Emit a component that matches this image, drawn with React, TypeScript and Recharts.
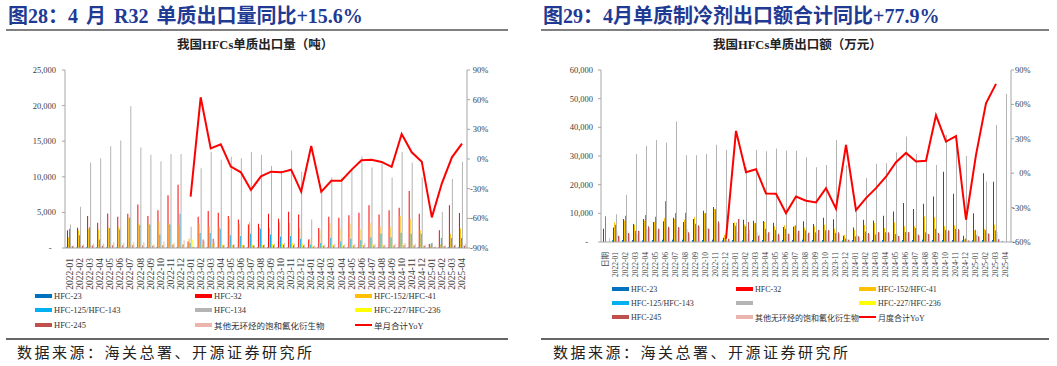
import React from "react";
import { ComposedChart, Bar, Line, XAxis, YAxis } from "recharts";

const SERIF = '"Liberation Serif", "Times New Roman", "Noto Sans CJK SC", serif';
const CJK = '"Noto Sans CJK SC", sans-serif';
const AXIS = "#A6A6A6";
const TXT = "#404040";
const TITLE = "#1F3A93";

// categories
const months1 = [
  "2022-01", "2022-02", "2022-03", "2022-04", "2022-05", "2022-06", "2022-07", "2022-08", "2022-09", "2022-10", "2022-11", "2022-12",
  "2023-01", "2023-02", "2023-03", "2023-04", "2023-05", "2023-06", "2023-07", "2023-08", "2023-09", "2023-10", "2023-11", "2023-12",
  "2024-01", "2024-02", "2024-03", "2024-04", "2024-05", "2024-06", "2024-07", "2024-08", "2024-09", "2024-10", "2024-11", "2024-12",
  "2025-01", "2025-02", "2025-03", "2025-04",
];
const months2 = ["日期", ...months1];

// chart 1: export volume (tonnes)
const vol23 = [100, 80, 120, 90, 110, 100, 130, 90, 100, 120, 110, 90, 60, 100, 110, 90, 100, 80, 90, 100, 110, 90, 80, 100, 70, 90, 100, 80, 110, 90, 100, 90, 100, 120, 110, 90, 50, 80, 100, 90];
const vol32 = [2500, 2850, 4500, 3550, 4850, 4400, 4800, 6100, 4500, 5300, 7400, 8900, 900, 4400, 5200, 4950, 4500, 4000, 3300, 3400, 4800, 4100, 5100, 4700, 1200, 2800, 4400, 4250, 4600, 4950, 6000, 4700, 5300, 5650, 8000, 4800, 550, 2500, 6000, 4900];
const vol152 = [1500, 2500, 2700, 2600, 2800, 2900, 4200, 3400, 3300, 3700, 3400, 3200, 1350, 3400, 3100, 3000, 4150, 3400, 3700, 2900, 2850, 3600, 3550, 2850, 1250, 2500, 3500, 2750, 3400, 2650, 3500, 3000, 3000, 4500, 4100, 2500, 300, 500, 2000, 2750];
const vol125 = [2700, 1800, 2900, 1200, 2800, 2600, 4300, 3200, 3300, 1900, 3300, 4800, 700, 2100, 2100, 2700, 1800, 1700, 2000, 2700, 1900, 1600, 1700, 1300, 500, 700, 1450, 900, 1300, 1100, 1500, 2050, 1500, 2150, 2000, 2000, 650, 1400, 1400, 1400];
const vol134 = [3300, 5800, 12000, 12600, 14300, 15100, 19900, 14100, 13100, 12200, 13200, 13200, 3000, 11200, 13500, 12400, 12800, 12600, 13500, 13100, 11500, 10900, 13700, 10700, 4000, 7900, 9900, 9900, 11100, 12900, 11300, 11900, 9900, 13500, 12000, 9900, 700, 5100, 9700, 12100];
const vol227 = [300, 300, 400, 350, 400, 500, 600, 400, 450, 500, 600, 500, 1200, 500, 600, 500, 400, 450, 500, 450, 550, 600, 700, 600, 300, 400, 500, 450, 400, 500, 600, 500, 450, 600, 500, 400, 100, 300, 400, 450];
const vol245 = [250, 300, 350, 300, 400, 350, 400, 350, 300, 400, 450, 500, 150, 1200, 1300, 400, 450, 400, 350, 400, 350, 450, 400, 350, 200, 300, 350, 300, 350, 400, 350, 300, 350, 400, 350, 300, 100, 250, 350, 300];
const volOther = [300, 500, 600, 600, 800, 700, 800, 800, 500, 900, 700, 1100, 200, 1000, 900, 400, 500, 400, 400, 500, 600, 700, 600, 500, 300, 500, 600, 500, 600, 700, 600, 500, 600, 700, 600, 500, 250, 400, 500, 600];
const volYoy = [
  null, null, null, null, null, null, null, null, null, null, null, null,
  -38, 62.4, 10.8, 14.9, -7.7, -13.5, -31.3, -17.5, -12.8, -13.5, -10.8, -33,
  13.2, -33, -22, -22, -11, -1.3, -0.7, -3, -8, 25.3, 6.8, -2.7,
  -59, -24.6, 1.7, 15.6,
];

// chart 2: export value (10k yuan)
const val23 = [0, 600, 700, 700, 650, 700, 750, 800, 800, 700, 700, 750, 600, 700, 650, 700, 700, 650, 700, 700, 750, 700, 700, 650, 600, 700, 650, 700, 700, 650, 700, 700, 750, 700, 700, 700, 600, 600, 700, 700, 300];
const val32 = [4600, 5100, 8000, 6300, 8000, 7000, 7200, 8500, 7000, 8000, 10900, 12200, 1500, 6600, 7800, 7400, 7300, 6700, 5200, 5300, 7200, 6300, 8500, 7900, 2200, 5100, 7800, 7500, 9200, 10600, 13600, 11500, 13300, 15900, 24500, 16800, 2200, 10000, 24000, 21000, 0];
const val152 = [0, 6800, 7500, 6000, 7500, 7000, 8400, 8000, 7800, 8700, 10000, 11500, 2500, 6800, 6000, 6500, 7000, 5500, 5800, 5500, 5000, 5500, 6000, 4600, 2400, 4200, 5900, 6600, 4900, 6800, 5500, 5500, 8900, 8600, 5500, 5800, 1000, 4000, 4500, 6000, 0];
const val125 = [9000, 6000, 9200, 3900, 9400, 8800, 14200, 10100, 10200, 6400, 10100, 11400, 1800, 5700, 5500, 6600, 4600, 4300, 4600, 5800, 4100, 3400, 4100, 3200, 1200, 2000, 3700, 2600, 3400, 2800, 3500, 4900, 3400, 4600, 4300, 4600, 1200, 4300, 4100, 4100, 0];
const val134 = [0, 9700, 16500, 30700, 33500, 35600, 34600, 42000, 30300, 30300, 30700, 33900, 32100, 6800, 26100, 32100, 31700, 32600, 31800, 31800, 29600, 26100, 26900, 35600, 26900, 10700, 22300, 27300, 27500, 31300, 36800, 30700, 28700, 26900, 37200, 35000, 30000, 2500, 21100, 40800, 51600];
const val227 = [0, 3900, 4000, 3000, 4500, 4000, 4500, 4000, 4500, 5500, 5000, 6500, 800, 3500, 3000, 3700, 3000, 2800, 3000, 3200, 2800, 3000, 3300, 2900, 1000, 2500, 3000, 3000, 3200, 2900, 3300, 3000, 3100, 3500, 3600, 3300, 900, 4100, 3200, 3500, 0];
const val245 = [0, 2200, 3100, 3900, 5500, 4600, 5300, 5200, 3400, 5800, 4600, 7200, 1100, 8000, 7000, 2200, 3400, 2900, 2900, 3900, 3200, 4200, 4200, 3400, 800, 2000, 3100, 3500, 3400, 2100, 3500, 2500, 2800, 3100, 4100, 4500, 500, 2000, 3000, 1000, 0];
const valOther = [1300, 2000, 3000, 3800, 5000, 4500, 5000, 5000, 3000, 5500, 4500, 6500, 1000, 8000, 4300, 2500, 3400, 2500, 2800, 3900, 3200, 4200, 4000, 3000, 800, 1800, 2800, 3300, 3000, 2000, 3300, 2300, 2500, 2800, 3800, 4200, 600, 1800, 2800, 1000, 0];
const valYoy = [
  null, null, null, null, null, null, null, null, null, null, null, null,
  -57, 36.9, 0.9, 3.5, -17.7, -18, -34.8, -20.3, -24, -25.5, -13, -31, 24.7,
  -32.2, -21.7, -13, -3.1, 9.6, 17.7, 10.2, 10.8, 50.5, 27.6, 32.3, -40.6,
  16, 61, 77.9, null,
];

// axis ticks
const ticks1L = [0, 5000, 10000, 15000, 20000, 25000];
const ticks1R = [-90, -60, -30, 0, 30, 60, 90];
const ticks2L = [0, 10000, 20000, 30000, 40000, 50000, 60000];
const ticks2R = [-60, -30, 0, 30, 60, 90];

const SERIES = [
  { key: "hfc23", name: "HFC-23", color: "#0070C0" },
  { key: "hfc32", name: "HFC-32", color: "#FF0000" },
  { key: "hfc152", name: "HFC-152/HFC-41", color: "#FFC000" },
  { key: "hfc125", name: "HFC-125/HFC-143", color: "#00B0F0" },
  { key: "hfc134", name: "HFC-134", color: "#B4B4B4" },
  { key: "hfc227", name: "HFC-227/HFC-236", color: "#FFFF00" },
  { key: "hfc245", name: "HFC-245", color: "#C0504D" },
  { key: "other", name: "其他无环烃的饱和氟化衍生物", color: "#EBB5AD" },
];

const data1 = months1.map((m, i) => ({
  m,
  hfc23: vol23[i], hfc32: vol32[i], hfc152: vol152[i], hfc125: vol125[i],
  hfc134: vol134[i], hfc227: vol227[i], hfc245: vol245[i], other: volOther[i],
  yoy: volYoy[i],
}));

const data2 = months2.map((m, i) => ({
  m,
  hfc23: val23[i], hfc32: val32[i], hfc152: val152[i], hfc125: val125[i],
  hfc134: val134[i], hfc227: val227[i], hfc245: val245[i], other: valOther[i],
  yoy: valYoy[i],
}));

const fmt = (v: number) => v.toLocaleString("en-US");

const LeftTick = (p: any) => {
  const zero = p.payload.value === 0;
  return (
    <text x={p.x + (zero ? p.zeroShift : 0)} y={p.y} dy={3} textAnchor="end" fontSize={8.5} fill={TXT} fontFamily={SERIF}>
      {zero ? "-" : fmt(p.payload.value)}
    </text>
  );
};

const RightTick = (p: any) => (
  <text x={p.x + p.shift} y={p.y} dy={3} textAnchor="end" fontSize={8.5} fill={TXT} fontFamily={SERIF}>
    {p.payload.value + "%"}
  </text>
);

const XTick = (p: any) => (
  <g transform={`translate(${p.x},${p.y})`}>
    <text transform="rotate(-90)" textAnchor="end" dy={p.size * 0.33} fontSize={p.size} fill={TXT} fontFamily={SERIF}>
      {p.payload.value}
    </text>
  </g>
);

type LegendProps = { colX: number[]; rowY: number[]; lineName: string; hide134?: boolean; size: number };

function ChartLegend({ colX, rowY, lineName, hide134, size }: LegendProps) {
  const items = [
    ...SERIES.map((s) => ({ name: hide134 && s.key === "hfc134" ? "" : s.name, color: s.color, line: false })),
    { name: lineName, color: "#FF0000", line: true },
  ];
  return (
    <>
      {items.map((it, i) => (
        <div
          key={i}
          style={{
            position: "absolute",
            left: colX[i % 3],
            top: rowY[Math.floor(i / 3)] - 6,
            height: 12,
            display: "flex",
            alignItems: "center",
            whiteSpace: "nowrap",
            fontFamily: SERIF,
            fontSize: size,
            color: "#333",
          }}
        >
          <span style={{ display: "inline-block", width: 17, height: it.line ? 2 : 4, background: it.color, marginRight: 2 }} />
          <span>{it.name}</span>
        </div>
      ))}
    </>
  );
}

function VolumeChart() {
  return (
    <ComposedChart width={530} height={300} data={data1} margin={{ top: 70, right: 23, bottom: 12, left: 0 }} barCategoryGap={1} barGap={0}>
      <XAxis dataKey="m" interval={0} tickLine={false} axisLine={{ stroke: AXIS }} height={40} tickMargin={4} tick={(p: any) => <XTick {...p} size={9.5} />} />
      <YAxis yAxisId="l" width={65} domain={[0, 25000]} ticks={ticks1L} tickSize={3} tickMargin={6} axisLine={{ stroke: AXIS }} tickLine={{ stroke: AXIS }} tick={(p: any) => <LeftTick {...p} zeroShift={-4.5} />} />
      <YAxis yAxisId="r" orientation="right" width={40} domain={[-90, 90]} ticks={ticks1R} tickSize={3} tickMargin={2} axisLine={{ stroke: AXIS }} tickLine={{ stroke: AXIS }} tick={(p: any) => <RightTick {...p} shift={16.3} />} />
      {SERIES.map((s) => (
        <Bar key={s.key} yAxisId="l" dataKey={s.key} fill={s.color} isAnimationActive={false} />
      ))}
      <Line yAxisId="r" type="linear" dataKey="yoy" stroke="#FF0000" strokeWidth={2} dot={false} isAnimationActive={false} />
    </ComposedChart>
  );
}

function ValueChart() {
  return (
    <ComposedChart width={527} height={300} data={data2} margin={{ top: 70, right: 6, bottom: 23, left: 0 }} barCategoryGap={1} barGap={0}>
      <XAxis dataKey="m" interval={0} tickLine={false} axisLine={{ stroke: AXIS }} height={35} tickMargin={4} tick={(p: any) => <XTick {...p} size={7.5} />} />
      <YAxis yAxisId="l" width={71} domain={[0, 60000]} ticks={ticks2L} tickSize={3} tickMargin={5} axisLine={{ stroke: AXIS }} tickLine={{ stroke: AXIS }} tick={(p: any) => <LeftTick {...p} zeroShift={-5} />} />
      <YAxis yAxisId="r" orientation="right" width={40} domain={[-60, 90]} ticks={ticks2R} tickSize={3} tickMargin={2} axisLine={{ stroke: AXIS }} tickLine={{ stroke: AXIS }} tick={(p: any) => <RightTick {...p} shift={14.7} />} />
      {SERIES.map((s) => (
        <Bar key={s.key} yAxisId="l" dataKey={s.key} fill={s.color} isAnimationActive={false} />
      ))}
      <Line yAxisId="r" type="linear" dataKey="yoy" stroke="#FF0000" strokeWidth={2} dot={false} isAnimationActive={false} />
    </ComposedChart>
  );
}

const abs = (s: React.CSSProperties): React.CSSProperties => ({ position: "absolute", whiteSpace: "nowrap", lineHeight: 1, ...s });

export default function App() {
  return (
    <div style={{ position: "absolute", left: 0, top: 0, width: 1057, height: 366, background: "#fff", overflow: "hidden" }}>
      {/* headers */}
      <div style={abs({ left: 8, top: 6, fontSize: 20, fontWeight: "bold", color: TITLE, fontFamily: SERIF, wordSpacing: 3 })}>
        图28：4 月 R32 单质出口量同比+15.6%
      </div>
      <div style={abs({ left: 543, top: 6, fontSize: 20, fontWeight: "bold", color: TITLE, fontFamily: SERIF })}>
        图29：4月单质制冷剂出口额合计同比+77.9%
      </div>
      <div style={abs({ left: 6, top: 29, width: 502, height: 2, background: "#808080" })} />
      <div style={abs({ left: 541, top: 29, width: 508, height: 2, background: "#808080" })} />

      <div style={abs({ left: 177, top: 39, fontSize: 12.5, fontWeight: "bold", color: "#222", fontFamily: SERIF })}>
        我国HFCs单质出口量（吨）
      </div>
      <div style={abs({ left: 713, top: 39, fontSize: 12.5, fontWeight: "bold", color: "#222", fontFamily: SERIF })}>
        我国HFCs单质出口额（万元）
      </div>

      <div style={{ position: "absolute", left: 0, top: 0 }}>
        <VolumeChart />
      </div>
      <div style={{ position: "absolute", left: 530, top: 0 }}>
        <ValueChart />
      </div>

      <ChartLegend colX={[35, 195, 355]} rowY={[296, 310, 325]} lineName="单月合计YoY" size={8.5} />
      <ChartLegend colX={[612, 736, 859]} rowY={[289, 303, 317]} lineName="月度合计YoY" hide134 size={8} />

      {/* footers */}
      <div style={abs({ left: 6, top: 338, width: 502, height: 2, background: "#666" })} />
      <div style={abs({ left: 541, top: 338, width: 508, height: 2, background: "#666" })} />
      <div style={abs({ left: 17, top: 344, fontSize: 15, letterSpacing: 2.5, color: "#222", fontFamily: CJK })}>
        数据来源：海关总署、开源证券研究所
      </div>
      <div style={abs({ left: 553, top: 344, fontSize: 15, letterSpacing: 2.5, color: "#222", fontFamily: CJK })}>
        数据来源：海关总署、开源证券研究所
      </div>
    </div>
  );
}
